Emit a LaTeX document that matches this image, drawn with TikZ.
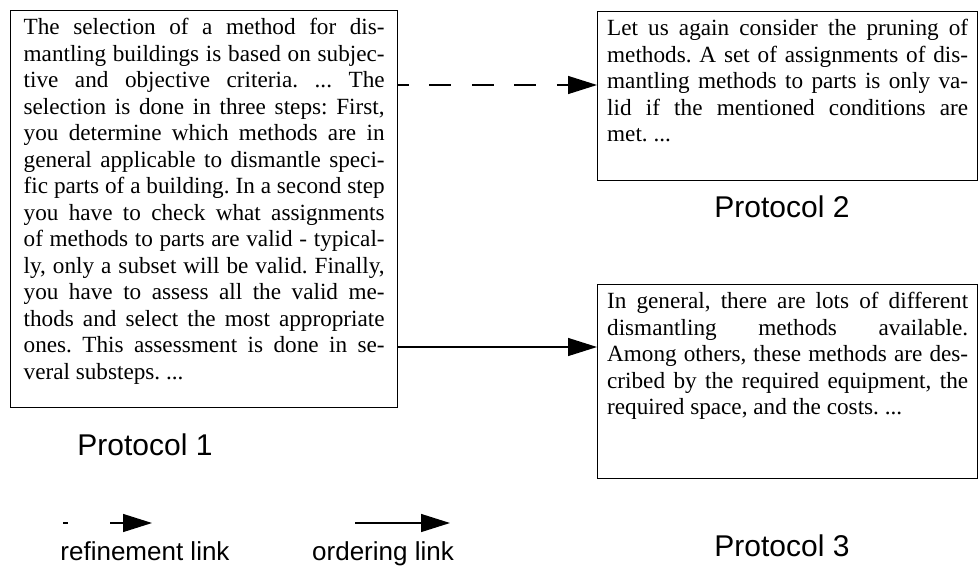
\documentclass[tikz,border=0pt]{standalone}
\usepackage{fontspec}
\setmainfont{Liberation Serif}
\newfontfamily\labelfont{Liberation Sans}
\usetikzlibrary{arrows.meta}
\frenchspacing

% width of the justified text block inside each protocol box
\newlength\boxtw
\setlength\boxtw{361pt}
% one fully justified line, and the final ragged line of a paragraph
\newcommand\jline[1]{\makebox[\boxtw][s]{#1}\\}
\newcommand\lastline[1]{\makebox[\boxtw][l]{#1}}

\begin{document}
\begin{tikzpicture}[x=1pt,y=-1pt,
  protobox/.style={draw, line width=1.3pt, anchor=north west, inner ysep=8pt,
    font=\fontsize{23.2pt}{26.5pt}\selectfont},
  protolabel/.style={anchor=base, inner sep=0pt, font=\labelfont\fontsize{30pt}{36pt}\selectfont},
  legendlabel/.style={anchor=base, inner sep=0pt, font=\labelfont\fontsize{26pt}{30pt}\selectfont},
  tip/.style={-{Triangle[length=29pt,width=18pt]}},
  refinelink/.style={line width=1.3pt, tip, dash pattern=on 22pt off 20.5pt, dash phase=11.5pt},
  orderlink/.style={line width=1.3pt, tip}
]
\useasboundingbox (0,0) rectangle (978,566);

% Protocol 1
\node[protobox, inner xsep=13pt] (p1) at (10,10) {\parbox[c][381pt][t]{\boxtw}{%
\jline{The selection of a method for dis-}
\jline{mantling buildings is based on subjec-}
\jline{tive and objective criteria. ... The}
\jline{selection is done in three steps: First,}
\jline{you determine which methods are in}
\jline{general applicable to dismantle speci-}
\jline{fic parts of a building. In a second step}
\jline{you have to check what assignments}
\jline{of methods to parts are valid - typical-}
\jline{ly, only a subset will be valid. Finally,}
\jline{you have to assess all the valid me-}
\jline{thods and select the most appropriate}
\jline{ones. This assessment is done in se-}
\lastline{veral substeps. ...}}};

% Protocol 2
\node[protobox, inner xsep=9.5pt] (p2) at (597,11) {\parbox[c][153pt][t]{\boxtw}{%
\jline{Let us again consider the pruning of}
\jline{methods. A set of assignments of dis-}
\jline{mantling methods to parts is only va-}
\jline{lid if the mentioned conditions are}
\lastline{met. ...}}};

% Protocol 3
\node[protobox, inner xsep=9.5pt] (p3) at (597,284) {\parbox[c][178pt][t]{\boxtw}{%
\jline{In general, there are lots of different}
\jline{dismantling methods available.}
\jline{Among others, these methods are des-}
\jline{cribed by the required equipment, the}
\lastline{required space, and the costs. ...}}};

% captions
\node[protolabel] (c1) at (145,455) {Protocol 1};
\node[protolabel] (c2) at (782,217) {Protocol 2};
\node[protolabel] (c3) at (782,556) {Protocol 3};

% links between the protocols
\coordinate (ya) at (0,85);
\coordinate (yb) at (0,347);
\draw[refinelink] (ya -| p1.east) -- (ya -| p2.west);
\draw[orderlink] (yb -| p1.east) -- (yb -| p3.west);

% legend
\coordinate (r0) at (63,523);
\coordinate (r1) at (152,523);
\coordinate (o0) at (355,523);
\coordinate (o1) at (450,523);
\draw[line width=1.3pt, tip, dash pattern=on 5pt off 42pt on 60pt] (r0) -- (r1);
\draw[orderlink] (o0) -- (o1);
\node[legendlabel] (lr) at (145,560) {refinement link};
\node[legendlabel] (lo) at (383,560) {ordering link};
\end{tikzpicture}
\end{document}
